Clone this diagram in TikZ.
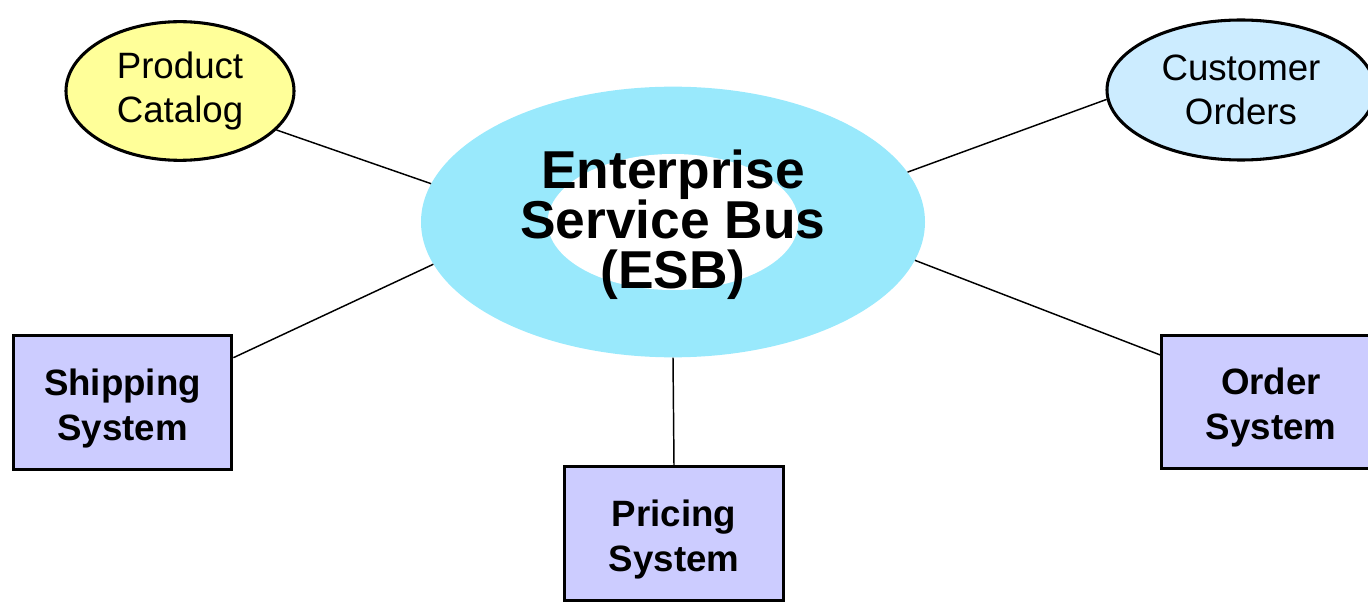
\documentclass[tikz,border=0pt]{standalone}
\usepackage{fontspec}
\setmainfont{Liberation Sans}
\usetikzlibrary{shapes.geometric}
\definecolor{catalogfill}{HTML}{FFFF99}
\definecolor{ordersfill}{HTML}{CCECFF}
\definecolor{busfill}{HTML}{99E9FC}
\definecolor{sysfill}{HTML}{CCCCFF}
% centred text block that takes no room, raised by #1 (the block sits on the math axis)
\newcommand\placedtext[2]{\makebox[0pt]{\raisebox{#1}[0pt][0pt]{\parbox{300pt}{\centering #2}}}}
\begin{document}
\begin{tikzpicture}[x=0.75pt,y=-0.75pt,
  store/.style={ellipse, draw=black, line width=2.3pt, inner sep=0pt,
    align=center, font=\fontsize{27.5}{33}\selectfont},
  sysbox/.style={rectangle, draw=black, line width=2.3pt, fill=sysfill,
    minimum width=164pt, minimum height=100pt, inner sep=0pt,
    font=\fontsize{27.5}{34}\selectfont\bfseries},
  bus/.style={ellipse, fill=busfill, minimum width=378pt, minimum height=203pt,
    inner sep=0pt, font=\fontsize{40}{37.5}\selectfont\bfseries,
    path picture={\fill[white] (path picture bounding box.center)
      ellipse [x radius=94pt, y radius=51pt];}},
  link/.style={draw=black, line width=1.1pt}]
\useasboundingbox (0,0) rectangle (1368,602);
\clip (0,0) rectangle (1368,602);

% central bus
\node[bus] (esb) at (673,222) {\placedtext{-8.25pt}{Enterprise\\Service Bus\\(ESB)}};

% data stores
\node[store, fill=catalogfill, minimum width=171pt, minimum height=104pt]
  (catalog) at (180,91) {Product\\Catalog};
\node[store, fill=ordersfill, minimum width=201pt, minimum height=105pt]
  (orders) at (1241,90) {Customer\\Orders};

% connected systems
\node[sysbox] (shipping) at (122.5,402.5) {\placedtext{-10.6pt}{Shipping\\System}};
\node[sysbox] (pricing) at (674,533.5) {\placedtext{-10.6pt}{Pricing\\System}};
\node[sysbox] (ordersys) at (1271,402) {\placedtext{-10.6pt}{Order\\System}};

% links to the bus
\draw[link] (catalog.-22) -- (esb.171);
\draw[link] (esb.190.7) -- (shipping.22.6);
\draw[link] (esb.12) -- (orders.184.3);
\draw[link] (esb.-9.6) -- (ordersys.157.6);
\draw[link] (esb.south) -- (pricing.north);
\end{tikzpicture}
\end{document}
